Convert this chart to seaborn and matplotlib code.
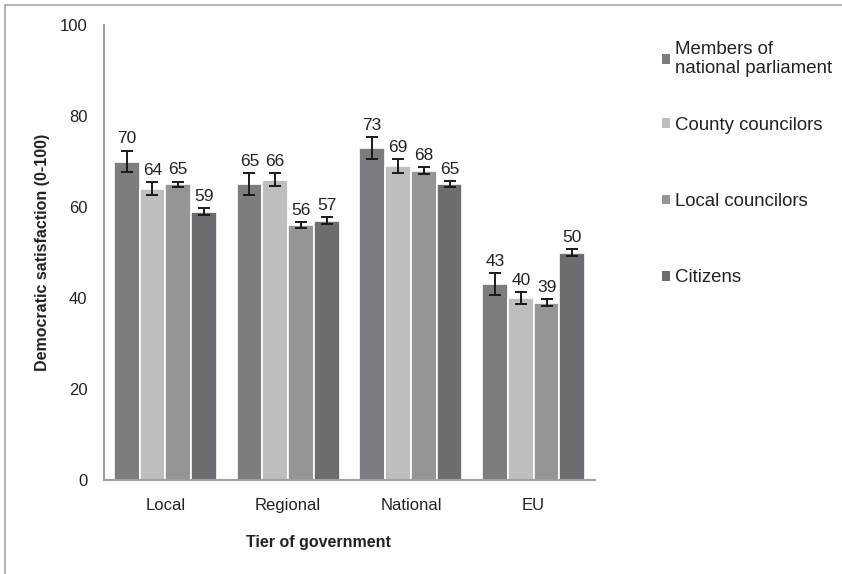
import numpy as np
import pandas as pd
import matplotlib
matplotlib.use("Agg")
import matplotlib.pyplot as plt
from matplotlib.patches import Patch
import seaborn as sns

# data
tiers = ["Local", "Regional", "National", "EU"]
groups = ["Members of\nnational parliament", "County councilors",
          "Local councilors", "Citizens"]
mnp = [70, 65, 73, 43]
county = [64, 66, 69, 40]
local = [65, 56, 68, 39]
citizens = [59, 57, 65, 50]
mnp_err = [2.4, 2.4, 2.4, 2.4]
county_err = [1.4, 1.4, 1.5, 1.4]
local_err = [0.6, 0.6, 0.7, 0.7]
citizens_err = [0.7, 0.7, 0.7, 0.7]
colors = ["#7c7d81", "#bdbec2", "#949599", "#6c6d71"]

values = [mnp, county, local, citizens]
errors = [mnp_err, county_err, local_err, citizens_err]
rows = []
for g, vals, errs in zip(groups, values, errors):
    for t, v, e in zip(tiers, vals, errs):
        rows.append({"Tier": t, "Group": g, "Value": v, "Err": e})
df = pd.DataFrame(rows)

sns.set_style("white")
plt.rcParams['font.family'] = ['Liberation Sans', 'DejaVu Sans']

fig = plt.figure(figsize=(8.42, 5.74), dpi=100)
ax = fig.add_axes([0.1235, 0.1638, 0.5832, 0.7926])

sns.barplot(data=df, x="Tier", y="Value", hue="Group", order=tiers,
            hue_order=groups, palette=colors, width=0.84, errorbar=None,
            edgecolor="white", linewidth=1.2, saturation=1, ax=ax,
            legend=False)

# error bars and value labels from the bar positions
for container, g in zip(ax.containers, groups):
    sub = df[df["Group"] == g].set_index("Tier").loc[tiers]
    xs = [p.get_x() + p.get_width() / 2 for p in container.patches]
    ax.errorbar(xs, sub["Value"], yerr=sub["Err"], fmt="none",
                ecolor="#1a1a1a", elinewidth=1.4, capsize=4.5, capthick=1.4)
    for x, v, e in zip(xs, sub["Value"], sub["Err"]):
        ax.text(x, v + e + 0.9, f"{v:.0f}", ha="center", va="bottom",
                fontsize=12.5, color="#222222")

ax.set_ylim(0, 100)
ax.set_xlim(-0.5, 3.5)
ax.set_yticks([0, 20, 40, 60, 80, 100])
ax.tick_params(axis="y", length=0, pad=12, labelsize=12, labelcolor="#222222")
ax.tick_params(axis="x", length=0, pad=13, labelsize=12, labelcolor="#222222")

for s in ["top", "right"]:
    ax.spines[s].set_visible(False)
for s in ["left", "bottom"]:
    ax.spines[s].set_color("#a0a0a4")
    ax.spines[s].set_linewidth(1.5)

ax.set_ylabel("Democratic satisfaction (0-100)", fontsize=11.5,
              fontweight="bold", color="#222222")
ax.set_xlabel("Tier of government", fontsize=11.5, fontweight="bold",
              color="#222222")
ax.yaxis.set_label_coords(-0.11, 0.5)
ax.xaxis.set_label_coords(0.436, -0.121)

# legend in two parts so the two-line entry keeps the spacing of the reference
handles = [Patch(facecolor=c, edgecolor="none") for c in colors]
leg_kw = dict(loc="upper left", bbox_transform=fig.transFigure, frameon=False,
              fontsize=13.4, handlelength=0.42, handleheight=0.42,
              handletextpad=0.3)
leg1 = ax.legend(handles[:1], groups[:1], bbox_to_anchor=(0.766, 0.958),
                 **leg_kw)
ax.add_artist(leg1)
leg2 = ax.legend(handles[1:], groups[1:], bbox_to_anchor=(0.766, 0.826),
                 labelspacing=3.19, **leg_kw)
for leg in [leg1, leg2]:
    for t in leg.get_texts():
        t.set_color("#222222")

# outer frame (only top and left edges visible)
fig.add_artist(plt.Rectangle((0.006, -0.1), 1.2, 1.091, fill=False,
                             edgecolor="#a6a6a6", linewidth=1.2,
                             transform=fig.transFigure))

fig.savefig("out.png", dpi=100)
